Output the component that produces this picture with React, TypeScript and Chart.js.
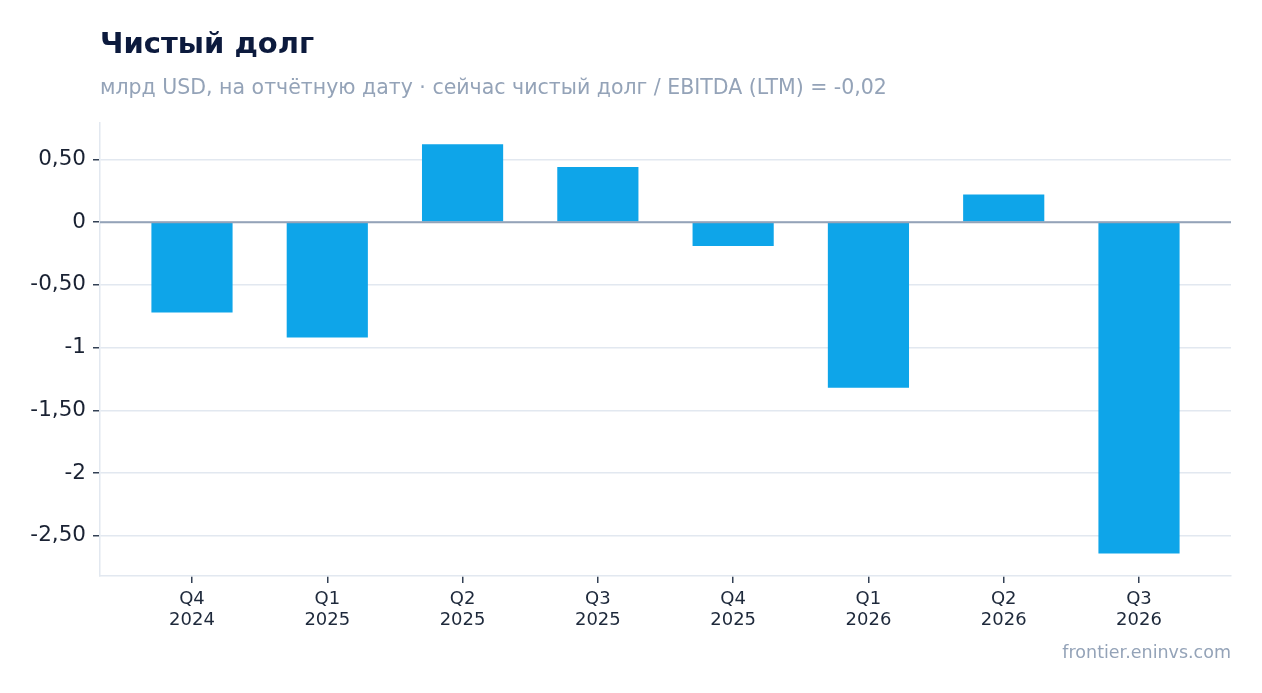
import { useEffect, useRef } from "react";
import { Chart, registerables } from "chart.js";

Chart.register(...registerables);

const quarters = ["Q4", "Q1", "Q2", "Q3", "Q4", "Q1", "Q2", "Q3"];
const years = ["2024", "2025", "2025", "2025", "2025", "2026", "2026", "2026"];
const netDebt = [-0.72, -0.92, 0.62, 0.44, -0.19, -1.32, 0.22, -2.64];
const yTickValues = [-2.5, -2, -1.5, -1, -0.5, 0, 0.5];
const yRange = [-2.82, 0.79];
const xRange = [-0.68, 7.68];

const TITLE = "Чистый долг";
const SUBTITLE = "млрд USD, на отчётную дату · сейчас чистый долг / EBITDA (LTM) = -0,02";
const SOURCE = "frontier.eninvs.com";

const FONT = "'DejaVu Sans', 'Noto Sans', sans-serif";

function fmt(v: number): string {
  if (Number.isInteger(v)) return String(v);
  return v.toFixed(2).replace(".", ",");
}

const zeroLinePlugin = {
  id: "zeroLine",
  afterDatasetsDraw(chart: any) {
    const ctx = chart.ctx;
    const y = chart.scales.y.getPixelForValue(0);
    const { left, right } = chart.chartArea;
    ctx.save();
    ctx.strokeStyle = "#94a3b8";
    ctx.lineWidth = 2;
    ctx.beginPath();
    ctx.moveTo(left, y);
    ctx.lineTo(right, y);
    ctx.stroke();
    ctx.restore();
  },
};

export default function App() {
  const canvasRef = useRef<HTMLCanvasElement | null>(null);

  useEffect(() => {
    if (!canvasRef.current) return;
    const chart = new Chart(canvasRef.current, {
      type: "bar",
      data: {
        datasets: [
          {
            data: netDebt.map((v, i) => ({ x: i, y: v })),
            backgroundColor: "#0ea5e9",
            borderWidth: 0,
            barPercentage: 0.6,
            categoryPercentage: 1,
          },
        ],
      },
      options: {
        animation: false,
        responsive: false,
        devicePixelRatio: 1,
        layout: { padding: { left: 0, right: 31, top: 123, bottom: 57 } },
        plugins: {
          legend: { display: false },
          tooltip: { enabled: false },
        },
        scales: {
          x: {
            type: "linear",
            offset: false,
            min: xRange[0],
            max: xRange[1],
            afterBuildTicks: (scale: any) => {
              scale.ticks = quarters.map((_, i) => ({ value: i }));
            },
            afterFit: (scale: any) => {
              scale.height = 60;
            },
            grid: {
              offset: false,
              drawOnChartArea: false,
              drawTicks: true,
              tickLength: 7,
              tickColor: "#334155",
              lineWidth: 1.5,
            },
            border: { display: true, color: "#e2e8f0", width: 1.5 },
            ticks: {
              autoSkip: false,
              maxRotation: 0,
              padding: 6,
              color: "#1e293b",
              font: { family: FONT, size: 18, lineHeight: 1.17 },
              callback: (v: any) => {
                const i = Math.round(Number(v));
                return [quarters[i], years[i]];
              },
            },
          },
          y: {
            type: "linear",
            min: yRange[0],
            max: yRange[1],
            afterBuildTicks: (scale: any) => {
              scale.ticks = yTickValues.map((v) => ({ value: v }));
            },
            afterFit: (scale: any) => {
              scale.width = 100;
            },
            grid: {
              color: "#e2e8f0",
              lineWidth: 1.5,
              drawTicks: true,
              tickLength: 7,
              tickColor: "#334155",
            },
            border: { display: true, color: "#e2e8f0", width: 1.5 },
            ticks: {
              padding: 7,
              color: "#1a2233",
              font: { family: FONT, size: 21.5 },
              callback: (v: any) => fmt(Number(v)),
            },
          },
        },
      },
      plugins: [zeroLinePlugin],
    } as any);
    return () => chart.destroy();
  }, []);

  return (
    <div
      style={{
        position: "fixed",
        left: 0,
        top: 0,
        width: 1262,
        height: 693,
        background: "#ffffff",
        overflow: "hidden",
      }}
    >
      <canvas
        ref={canvasRef}
        width={1262}
        height={693}
        style={{ position: "absolute", left: 0, top: 0, width: 1262, height: 693 }}
      />
      <div
        style={{
          position: "absolute",
          left: 100,
          top: 29,
          fontFamily: FONT,
          fontWeight: 700,
          fontSize: 29,
          lineHeight: 1,
          color: "#0c1a3d",
          whiteSpace: "nowrap",
        }}
      >
        {TITLE}
      </div>
      <div
        style={{
          position: "absolute",
          left: 100,
          top: 77,
          fontFamily: FONT,
          fontSize: 20.5,
          lineHeight: 1,
          color: "#94a3b8",
          whiteSpace: "nowrap",
        }}
      >
        {SUBTITLE}
      </div>
      <div
        style={{
          position: "absolute",
          right: 31,
          top: 644,
          fontFamily: FONT,
          fontSize: 17.5,
          lineHeight: 1,
          color: "#94a3b8",
          whiteSpace: "nowrap",
        }}
      >
        {SOURCE}
      </div>
    </div>
  );
}
